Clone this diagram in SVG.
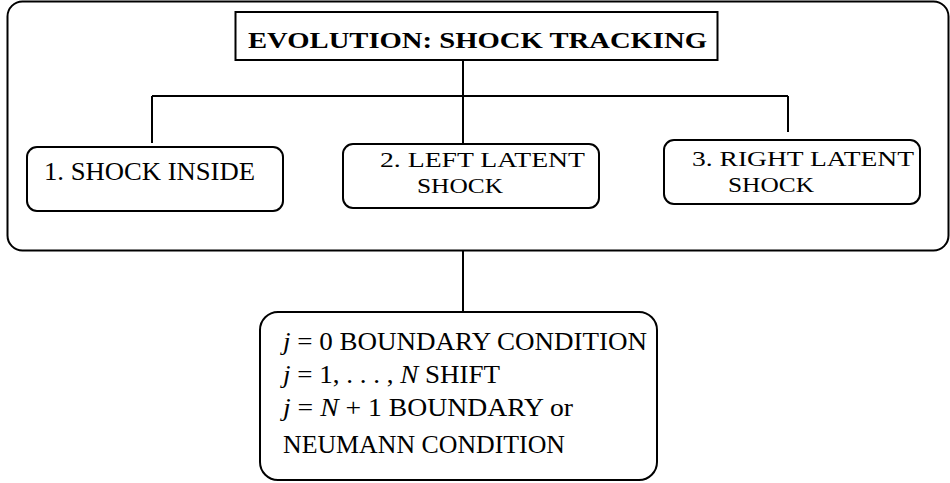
<svg xmlns="http://www.w3.org/2000/svg" width="950" height="483" viewBox="0 0 950 483">
<style>
.box{fill:#fff;stroke:#000;stroke-width:2}
.ln{fill:none;stroke:#000;stroke-width:2}
.t{font-family:"Liberation Serif","Times New Roman",serif;font-size:25px;fill:#000}
.s{font-size:22px}
.b{font-weight:bold;font-size:24px}
.i{font-style:italic}
</style>
<rect width="950" height="483" fill="#fff"/>
<g id="frame"><rect class="box" x="7.5" y="1.5" width="941" height="249" rx="15"/></g>
<g id="connectors">
<path class="ln" d="M463 60 V143 M152 96 H788 M152 96 V143 M788 96 V132 M463 251 V312"/>
</g>
<g id="title">
<rect class="box" x="235.5" y="12" width="482" height="48"/>
<text class="t b" x="248" y="48" textLength="459" lengthAdjust="spacingAndGlyphs">EVOLUTION: SHOCK TRACKING</text>
</g>
<g id="n1">
<rect class="box" x="27" y="147" width="256" height="64" rx="10"/>
<text class="t" x="44" y="180" textLength="211" lengthAdjust="spacingAndGlyphs">1. SHOCK INSIDE</text>
</g>
<g id="n2">
<rect class="box" x="343" y="144" width="256" height="64" rx="10"/>
<text class="t s" x="380" y="167" textLength="205" lengthAdjust="spacingAndGlyphs">2. LEFT LATENT</text>
<text class="t s" x="417" y="193" textLength="86" lengthAdjust="spacingAndGlyphs">SHOCK</text>
</g>
<g id="n3">
<rect class="box" x="664" y="140" width="256" height="64" rx="10"/>
<text class="t s" x="692" y="166" textLength="222" lengthAdjust="spacingAndGlyphs">3. RIGHT LATENT</text>
<text class="t s" x="728" y="192" textLength="86" lengthAdjust="spacingAndGlyphs">SHOCK</text>
</g>
<g id="n4">
<rect class="box" x="260" y="312" width="397" height="168" rx="18"/>
<text class="t" x="283" y="350" textLength="364" lengthAdjust="spacingAndGlyphs"><tspan class="i">j</tspan> = 0 BOUNDARY CONDITION</text>
<text class="t" x="283" y="383" textLength="217" lengthAdjust="spacingAndGlyphs"><tspan class="i">j</tspan> = 1, . . . , <tspan class="i">N</tspan> SHIFT</text>
<text class="t" x="283" y="416" textLength="290" lengthAdjust="spacingAndGlyphs"><tspan class="i">j</tspan> = <tspan class="i">N</tspan> + 1 BOUNDARY or</text>
<text class="t" x="283" y="453" textLength="282" lengthAdjust="spacingAndGlyphs">NEUMANN CONDITION</text>
</g>
</svg>
